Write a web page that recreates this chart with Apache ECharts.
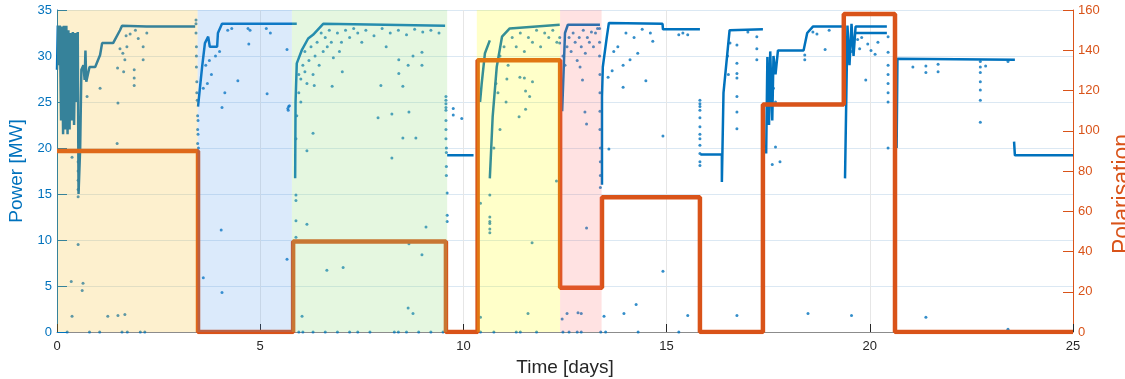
<!DOCTYPE html>
<html>
<head>
<meta charset="utf-8">
<script src="https://cdn.jsdelivr.net/npm/echarts@6/dist/echarts.min.js"></script>
<style>
html, body { margin: 0; padding: 0; background: #fff; }
#chart { width: 1125px; height: 379px; }
</style>
</head>
<body>
<div id="chart"></div>
<script>
// dense power traces, [day, MW], one array per unbroken run
var powerTraces = [
    [[0,28.5],[0.02,33.3],[0.05,29],[0.07,33.3],[0.1,23],[0.12,33.2],[0.15,21.5],[0.17,33.3],[0.2,22],[0.23,33.3],
     [0.26,21.5],[0.28,32.8],[0.31,22],[0.33,32.5],[0.36,23],[0.39,32.6],[0.42,22.5],[0.45,32.5],[0.48,25],[0.51,32.6],
     [0.53,15],[0.57,20],[0.6,28.5],[0.65,29],[0.68,27.4],[0.7,30.6],[0.72,27.2],[0.8,28.8],[0.94,28.8],[1.06,30.1],
     [1.11,31.4],[1.38,31.4],[1.55,32.8],[1.6,33.3],[2.2,33.2],[3.4,33.2]],
    [[3.47,24.5],[3.57,28.8],[3.64,31.4],[3.72,32.1],[3.76,31],[3.94,31],[3.96,32.5],[4.06,33.5],[5.9,33.5]],
    [[5.86,16.7],[5.87,25],[5.9,29.2],[6.03,30.7],[6.18,31.9],[6.3,32.3],[6.55,33.5],[9.55,33.3]],
    [[9.6,19.2],[10.25,19.2]],
    [[10.41,25],[10.45,27],[10.53,30.3],[10.65,31.7]],
    [[10.65,16.7],[10.72,23.4],[10.82,28.8],[10.95,32.1],[11.14,33],[12.37,33.4]],
    [[12.43,24],[12.5,32.5],[12.57,33.4],[13.36,33.4]],
    [[13.41,16],[13.41,25.6],[13.43,28.8],[13.53,32.1],[13.58,33.6],[14.9,33.5],[14.91,32.9],[15.82,32.9]],
    [[15.83,19.3],[16.36,19.3],[16.36,16.3],[16.4,26],[16.55,32.8],[17.37,32.9]],
    [[17.45,19.4],[17.48,29.9],[17.52,22.5],[17.55,30.5],[17.6,23],[17.63,30],[17.68,28],[17.74,30.6],[18.37,30.6],
     [18.46,32.5],[18.6,33.2],[19.39,33.2]],
    [[19.39,16.7],[19.45,33.3],[19.5,29],[19.55,33.5],[19.6,30],[19.65,33.2],[20.42,33.2]],
    [[19.62,32.5],[20.42,32.5]],
    [[20.66,20],[20.68,29.7],[23.57,29.6]],
    [[23.55,20.7],[23.57,19.2],[25,19.2]]
];

// scattered power samples, [day, MW]
var powerDots = [
    [0.37,19],[0.74,25.6],[1.06,26.5],[1.5,24.9],[1.48,20.5],[1.49,28.7],[1.64,28.3],[1.67,29.6],[1.9,28.5],[1.9,27.6],
    [1.9,26.8],[2.12,29.6],[2.12,31],[1.62,30.3],[1.72,31],[2.21,32.5],[1.93,32.8],[1.7,32.2],[1.55,30.8],[1.8,32.4],[2.0,31.9],
    [0.35,5.5],[0.52,9.5],[0.64,5.3],[0.62,4.5],[0.37,1.7],[1.25,1.7],[1.5,1.8],[1.67,1.9],
    [0.52,14.7],[0.52,15.5],[0.52,16.5],[0.52,17.5],[0.52,18.5],
    [0.25,0],[0.8,0],[1.05,0],[1.6,0],[1.73,0],[2.05,0],[2.16,0],
    [3.42,33.9],[3.42,33.5],[3.42,32.5],[3.43,31],[3.43,30],[3.43,28.8],[3.44,27.2],[3.44,26],[3.45,25.2],
    [3.46,23.5],[3.46,22],[3.46,20.5],[3.47,23],[3.47,21.5],[3.48,20],
    [4.7,33.0],[4.75,32.8],[5.15,33.0],[5.25,32.5],[4.72,31.3],[4.45,27.3],[4.13,26],[4.06,24.4],[5.17,25.9],[5.66,30.7],
    [4.04,11.1],[3.6,5.9],[4.06,4.3],[5.66,7.9],[3.9,30],[3.8,28],[3.7,27],[3.75,29.5],[4.0,30.5],[4.2,32.8],
    [4.3,33],[3.6,26.5],[3.66,29],[5.68,24.3],[5.7,24.5],[5.72,24.6],[5.69,24.1],
    [5.95,28],[5.95,26],[6.0,27.5],[6.05,29],[6.1,28.3],[6.1,30.5],[6.15,27],[6.2,29.5],[6.25,31],[6.3,28],
    [6.35,30],[6.4,31.5],[6.45,29],[6.5,32.5],[6.55,30.5],[6.6,32],[6.65,31],[6.7,32.8],[6.75,31.5],[6.8,29.8],
    [6.9,32.5],[7.0,31.5],[7.1,32.8],[7.2,32],[7.3,33],[7.4,32.5],[7.6,32.8],[7.8,32.2],[8.0,33],[8.2,32.5],
    [8.4,32.8],[8.6,32.3],[8.8,32.9],[9.0,32.6],[9.2,32.8],[9.4,32.5],
    [6.3,21.6],[6.15,19.7],[6.77,26.7],[6.33,26.8],[7.02,28.3],[7.97,26.8],[7.9,23.3],[8.24,23.7],[8.24,18.9],[8.51,21.1],
    [8.83,21.1],[8.66,23.9],[8.51,26.7],[8.41,28.1],[8.64,29],[8.98,29],[8.41,29.6],[8.76,30],[8.98,30.4],[6.95,30.5],
    [7.5,31.5],[8.1,31],[6.0,25],[5.9,23.5],[5.88,21],
    [5.88,14.9],[5.88,14.3],[5.88,12.1],[6.15,11.7],[5.88,10.3],[6.64,6.7],[7.04,7],[6.03,1.7],[8.64,2.6],[8.76,2],
    [8.98,8.4],[9.08,11.4],[9.6,12.7],[9.6,12],[9.6,15.1],[8.66,9.6],
    [5.95,0],[6.05,0],[6.3,0],[6.6,0],[6.9,0],[7.2,0],[7.4,0],[7.7,0],[8.3,0],[8.4,0],[8.6,0],[8.9,0],[9.2,0],[9.5,0],
    [9.57,25.6],[9.57,25.2],[9.57,24.8],[9.57,24.4],[9.57,24.1],[9.57,23],[9.57,22],[9.57,21],[9.58,20],[9.58,19.5],
    [9.58,18],[9.58,17],[9.75,24.3],[9.75,23.6],[9.96,23.2],
    [10.65,14.9],[10.65,12.5],[10.65,12],[10.65,11.8],[10.65,11.2],[10.65,10.8],[10.42,14],[10.42,1.6],[11.69,9.7],[11.59,2],
    [12.29,16.4],[11.07,27.5],[11.39,27.7],[11.5,27.6],[11.7,27.2],[11.53,26.2],[11.63,25.6],[11.05,25],[11.37,23.4],[11.53,24.2],
    [10.9,30],[11.0,31],[11.1,29],[11.2,32],[11.3,31],[11.4,32.5],[11.5,30.5],[11.6,32],[11.7,31.5],[11.8,32.8],
    [11.9,31],[12.0,32.5],[12.1,32],[12.2,32.8],[12.3,31.5],[10.8,27],[10.85,26],[10.9,22],[10.75,20],
    [10.42,0],[10.75,0],[11.3,0],[11.4,0],[11.8,0],[12.37,32],[12.37,31.4],
    [12.45,30],[12.5,29],[12.55,31],[12.6,32],[12.65,30.5],[12.7,32.5],[12.75,31.5],[12.8,29.5],[12.85,32],[12.9,31],
    [12.95,32.8],[13.0,30.3],[13.05,32],[13.1,31.5],[13.15,32.6],[13.2,31],[13.25,32.5],[13.3,33],
    [12.99,23.9],[13.03,22.6],[12.93,27.4],[12.87,28.8],[13.03,11.3],[12.43,1.4],[12.55,2],[12.82,2.1],[12.9,2],
    [12.45,0],[12.6,0],[12.8,0],[12.9,0],
    [13.35,33],[13.35,31.5],[13.35,30],[13.36,28],[13.36,26],[13.36,24],[13.36,22],[13.37,20],[13.37,18.5],[13.37,17],
    [13.37,15.7],[13.38,0],
    [13.56,27.7],[13.66,28.4],[13.93,26.6],[13.93,29],[14.1,29.6],[14.29,30.3],[14.49,27.3],[14.66,31.6],[14.91,21.3],[13.58,19.9],
    [15.52,32.3],[13.8,31],[14.0,32.5],[14.2,32],[14.4,32.9],[14.6,32.5],[13.7,30.5],[15.3,32.3],[15.4,32.5],
    [14.91,6.6],[14.25,3],[13.95,2],[13.46,1.7],[15.52,1.8],[16.73,1.8],[18.48,2],[13.5,0],[14.3,0],[15.3,0],
    [15.82,25.2],[15.82,24.8],[15.82,24.5],[15.82,24.1],[15.82,23.3],[15.82,22.3],[15.82,21.5],[15.82,21],[15.82,20.3],
    [15.82,19.4],[15.82,18.5],[15.82,18.1],
    [16.73,31.2],[16.73,29.2],[16.73,28.1],[16.73,27.6],[16.73,25.6],[16.73,23.9],[16.73,22.1],[17.22,32.1],[17.22,30.8],
    [17.22,29.6],[16.56,31.4],[17.0,32.6],[16.5,30],[16.52,28],
    [17.68,20.1],[17.6,18.2],[17.79,18.5],[17.68,25],[17.63,26.5],[18.4,30.1],[18.4,29.6],[18.9,30.7],[18.6,32.6],[18.7,32.4],
    [19.0,32.8],[19.55,1.8],
    [20.45,32.1],[20.45,30.4],[20.45,29],[20.45,28],[20.45,27],[20.45,26],[20.45,25],[20.45,20],[19.9,27.4],[20.13,30.2],
    [20.03,30.6],[19.55,30.5],[19.6,31.5],[19.7,31.8],[19.8,32],[19.75,30.8],[19.95,31.3],[20.2,31.5],
    [21.06,28.8],[21.38,28.9],[21.38,28.2],[21.68,29.1],[21.68,28.3],[22.72,29.4],[22.72,28.8],[22.72,28.2],[22.72,27.2],
    [22.72,26.3],[22.72,25.2],[22.72,22.8],[22.85,28.9],[23.4,29.4],[21.38,1.6],[23.4,0.3]
];

// polarisation steps, [day, level], each level holds until the next day
var polarisation = [
    [0,90],[3.47,0],[5.81,45],[9.57,0],[10.35,135],[12.38,22],[13.41,67],
    [15.82,0],[17.37,113],[19.36,158],[20.62,0],[25,0]
];

// shaded campaign periods, in days
var zoneStart = [0, 3.46, 5.78, 10.33, 12.38];
var zoneEnd   = [3.46, 5.78, 9.6, 12.38, 13.4];
var zoneColors = [
    'rgba(245,185,30,0.22)',
    'rgba(75,150,235,0.2)',
    'rgba(151,223,131,0.25)',
    'rgba(255,255,0,0.21)',
    'rgba(255,100,100,0.19)'
];

var blue = '#0072bd';
var orange = '#d95319';
var font = 'Liberation Sans';

var series = [];
powerTraces.forEach(function (t) {
    series.push({
        type: 'line',
        data: t,
        symbol: 'none',
        z: 2,
        lineStyle: { color: blue, width: 2.5 }
    });
});
series.push({
    type: 'scatter',
    data: powerDots,
    symbolSize: 3,
    z: 2,
    itemStyle: { color: blue }
});
series.push({
    type: 'line',
    yAxisIndex: 1,
    data: polarisation,
    step: 'end',
    symbol: 'none',
    z: 3,
    lineStyle: { color: orange, width: 4.5 }
});

// shading sits above the lines, like the original
var areas = [];
for (var i = 0; i < zoneStart.length; i++) {
    areas.push([{ xAxis: zoneStart[i], itemStyle: { color: zoneColors[i] } }, { xAxis: zoneEnd[i] }]);
}
series.push({
    type: 'line',
    data: [],
    z: 10,
    silent: true,
    markArea: { z: 10, silent: true, data: areas }
});

var chart = echarts.init(document.getElementById('chart'));
chart.setOption({
    animation: false,
    grid: { left: 57, right: 52, top: 10, bottom: 47, outerBoundsMode: 'none' },
    xAxis: {
        type: 'value',
        min: 0,
        max: 25,
        interval: 5,
        name: 'Time [days]',
        nameLocation: 'middle',
        nameGap: 26,
        nameTextStyle: { color: '#262626', fontSize: 19, fontFamily: font },
        axisLine: { lineStyle: { color: '#8c8c8c' } },
        axisTick: { inside: true, length: 8, lineStyle: { color: '#262626' } },
        axisLabel: { color: '#262626', fontSize: 13, fontFamily: font, margin: 8 },
        splitLine: { show: true, lineStyle: { color: '#e6e6e6' } }
    },
    yAxis: [{
        type: 'value',
        position: 'left',
        min: 0,
        max: 35,
        interval: 5,
        name: 'Power [MW]',
        nameLocation: 'middle',
        nameGap: 28,
        nameTextStyle: { color: blue, fontSize: 19, fontFamily: font },
        axisLine: { show: true, lineStyle: { color: blue } },
        axisTick: { show: true, inside: true, length: 10, lineStyle: { color: blue } },
        axisLabel: { color: blue, fontSize: 13, fontFamily: font, margin: 5 },
        splitLine: { show: true, lineStyle: { color: '#dbe8f3' } }
    }, {
        type: 'value',
        position: 'right',
        min: 0,
        max: 160,
        interval: 20,
        name: 'Polarisation',
        nameLocation: 'middle',
        nameGap: 38,
        nameTextStyle: { color: orange, fontSize: 23, fontFamily: font, padding: [0, 46, 0, 0] },
        axisLine: { show: true, lineStyle: { color: orange } },
        axisTick: { show: true, inside: true, length: 10, lineStyle: { color: orange } },
        axisLabel: { color: orange, fontSize: 13, fontFamily: font, margin: 5 },
        splitLine: { show: false }
    }],
    series: series
});
</script>
</body>
</html>
